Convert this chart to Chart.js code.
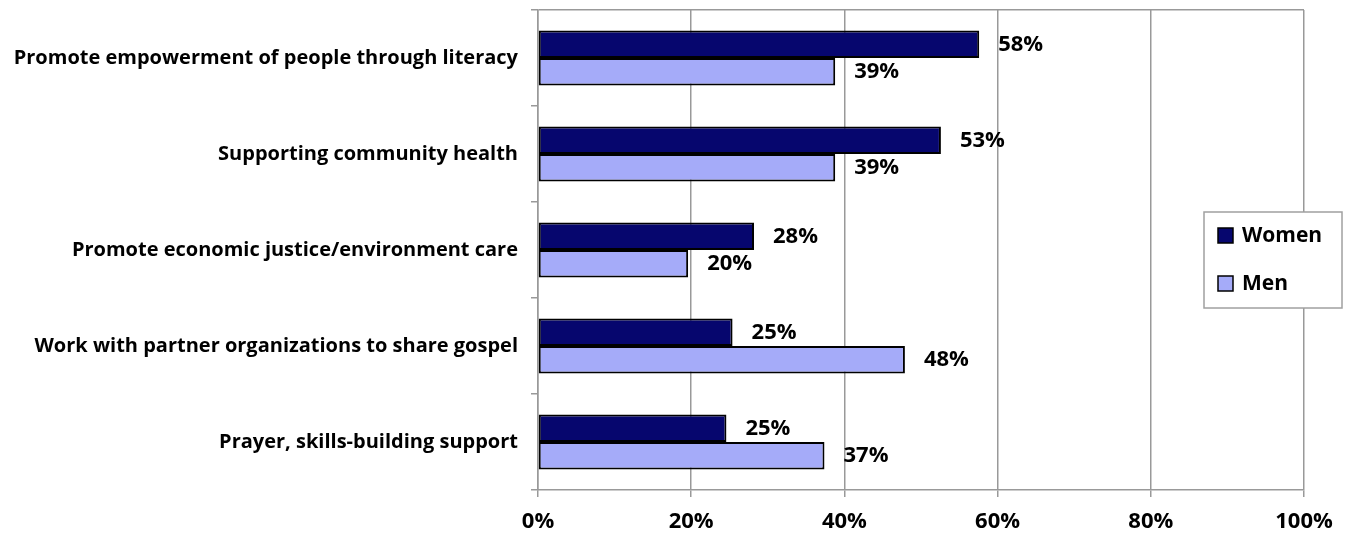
<!DOCTYPE html>
<html>
<head>
<meta charset="utf-8">
<script src="https://cdn.jsdelivr.net/npm/chart.js@4"></script>
<style>
  html, body { margin: 0; padding: 0; background: #fff; }
  #wrap { width: 1346px; height: 535px; }
</style>
</head>
<body>
<div id="wrap"><canvas id="myChart"></canvas></div>
<script>
      // Datos del gráfico
      var categories = [
        'Promote empowerment of people through literacy',
        'Supporting community health',
        'Promote economic justice/environment care',
        'Work with partner organizations to share gospel',
        'Prayer, skills-building support'
      ];
      var women = [57.6, 52.6, 28.2, 25.4, 24.6];
      var men = [38.8, 38.8, 19.6, 47.9, 37.4];
      var xTicks = [0, 20, 40, 60, 80, 100];

      var FONT = '"Open Sans", sans-serif';
      var GRID = '#999999';

      // etiquetas de valor al final de cada barra
      var valueLabels = {
        id: 'valueLabels',
        afterDatasetsDraw: function (chart) {
          var ctx = chart.ctx;
          ctx.save();
          ctx.font = 'bold 22px ' + FONT;
          ctx.fillStyle = '#000';
          ctx.textAlign = 'left';
          ctx.textBaseline = 'middle';
          chart.data.datasets.forEach(function (ds, i) {
            chart.getDatasetMeta(i).data.forEach(function (bar, j) {
              ctx.fillText(Math.round(ds.data[j]) + '%', bar.x + 19, bar.y);
            });
          });
          ctx.restore();
        }
      };

      // leyenda tipo Excel, encima del área del gráfico
      var boxLegend = {
        id: 'boxLegend',
        afterDraw: function (chart) {
          var ctx = chart.ctx;
          var w = 138, h = 96;
          var x = chart.width - 4 - w, y = 212;
          ctx.save();
          ctx.fillStyle = '#fff';
          ctx.fillRect(x, y, w, h);
          ctx.strokeStyle = '#a0a0a0';
          ctx.lineWidth = 1.5;
          ctx.strokeRect(x, y, w, h);
          ctx.font = 'bold 21px ' + FONT;
          ctx.textBaseline = 'middle';
          chart.data.datasets.forEach(function (ds, i) {
            var cy = y + 24 + i * 48;
            ctx.fillStyle = ds.backgroundColor;
            ctx.fillRect(x + 14, cy - 8, 15, 15);
            ctx.strokeStyle = '#000';
            ctx.lineWidth = 1.5;
            ctx.strokeRect(x + 14, cy - 8, 15, 15);
            ctx.fillStyle = '#000';
            ctx.fillText(ds.label, x + 38, cy);
          });
          ctx.restore();
        }
      };

      var data = {
        labels: categories,
        datasets: [{
          label: 'Women',
          data: women,
          backgroundColor: '#06066E',
          borderColor: '#000',
          borderWidth: 2,
          borderSkipped: false
        }, {
          label: 'Men',
          data: men,
          backgroundColor: '#A5ABF9',
          borderColor: '#000',
          borderWidth: 2,
          borderSkipped: false
        }]
      };

      var options = {
        indexAxis: 'y',
        responsive: true,
        maintainAspectRatio: false,
        animation: false,
        layout: { padding: { top: 10, right: 42, left: 0, bottom: 0 } },
        datasets: { bar: { categoryPercentage: 0.573, barPercentage: 1 } },
        plugins: { legend: { display: false }, tooltip: { enabled: false } },
        scales: {
          x: {
            min: 0, max: 100,
            afterBuildTicks: function (scale) {
              scale.ticks = xTicks.map(function (v) { return { value: v }; });
            },
            afterFit: function (scale) { scale.height = 45; },
            grid: { color: GRID, lineWidth: 1.5, tickLength: 7, tickColor: GRID },
            border: { color: GRID, width: 1.5 },
            ticks: {
              padding: 12,
              color: '#000',
              font: { family: FONT, size: 22, weight: 'bold' },
              callback: function (v) { return v + '%'; }
            }
          },
          y: {
            afterFit: function (scale) {
              scale.width = 538;
              scale.paddingTop = 0;
              scale.paddingBottom = 0;
            },
            grid: {
              offset: true,
              color: function (c) { return c.index === 0 ? GRID : 'transparent'; },
              lineWidth: 1.5,
              tickLength: 7,
              tickColor: GRID
            },
            border: { color: GRID, width: 1.5 },
            ticks: {
              padding: 13,
              color: '#000',
              font: { family: FONT, size: 20, weight: 'bold' }
            }
          }
        }
      };

      var ctx = document.getElementById('myChart').getContext('2d');
      var myChart = new Chart(ctx, {
        type: 'bar',
        data: data,
        options: options,
        plugins: [valueLabels, boxLegend]
      });
</script>
</body>
</html>
